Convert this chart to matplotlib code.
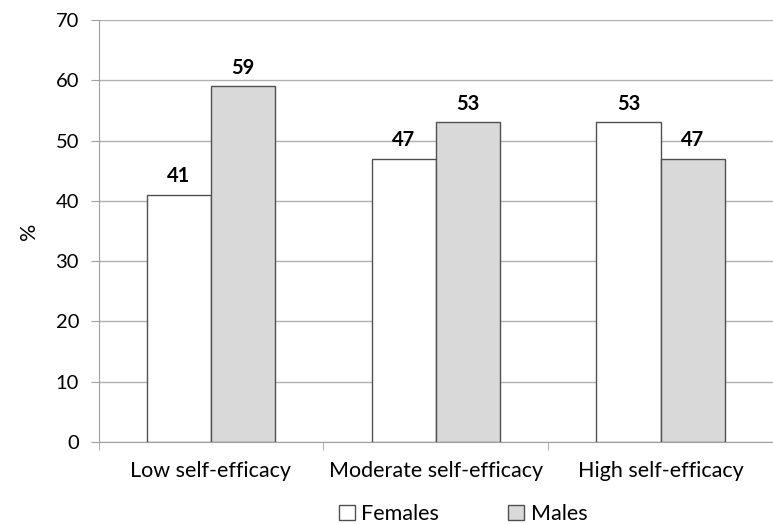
import numpy as np
import matplotlib.pyplot as plt
from matplotlib.patches import Patch

categories = ["Low self-efficacy", "Moderate self-efficacy", "High self-efficacy"]
females = [41, 47, 53]
males = [59, 53, 47]

plt.rcParams['font.family'] = ['Lato', 'DejaVu Sans']

fig = plt.figure(figsize=(7.73, 5.24), dpi=100)
ax = fig.add_axes([98.5 / 773, 1 - 442 / 524, (773 - 98.5) / 773, 422 / 524])

x = np.arange(len(categories))
w = 0.2855
edge = "#505050"
ax.bar(x - w / 2, females, w, color="white", edgecolor=edge, linewidth=1, zorder=3)
ax.bar(x + w / 2, males, w, color="#d9d9d9", edgecolor=edge, linewidth=1, zorder=3)

for i in range(len(categories)):
    ax.text(x[i] - w / 2, females[i] + 1.4, str(females[i]), ha="center", va="bottom",
            fontsize=14.5, fontweight="bold")
    ax.text(x[i] + w / 2, males[i] + 1.4, str(males[i]), ha="center", va="bottom",
            fontsize=14.5, fontweight="bold")

# one category = ~229.5 px in the reference
ax.set_xlim(-0.5, (773 - 98.5) / 229.5 - 0.5)
ax.set_ylim(0, 70)
ax.set_yticks(range(0, 71, 10))
ax.yaxis.grid(True, color="#b0b0b0", linewidth=1, zorder=0)
ax.set_axisbelow(True)

ax.set_xticks(x)
ax.set_xticklabels(categories, fontsize=15.5)
ax.set_xticks([-0.5, 0.5, 1.5, 2.5], minor=True)
ax.tick_params(axis="x", which="major", length=0, pad=14)
ax.tick_params(axis="x", which="minor", length=6, color="#a0a0a0", direction="out")
ax.tick_params(axis="y", labelsize=14.5, length=6, color="#a0a0a0", pad=8)

for s in ["top", "right"]:
    ax.spines[s].set_visible(False)
ax.spines["left"].set_color("#a0a0a0")
ax.spines["bottom"].set_color("#a0a0a0")

ax.set_ylabel("%", fontsize=15.5, labelpad=12)

handles = [Patch(facecolor="white", edgecolor=edge, label="Females"),
           Patch(facecolor="#d9d9d9", edgecolor=edge, label="Males")]
fig.legend(handles=handles, loc="center", bbox_to_anchor=(463 / 773, 1 - 514 / 524),
           ncol=2, frameon=False, fontsize=15.5, handlelength=0.75, handleheight=0.75,
           handletextpad=0.3, columnspacing=3.2)

fig.savefig("out.png", dpi=100)
